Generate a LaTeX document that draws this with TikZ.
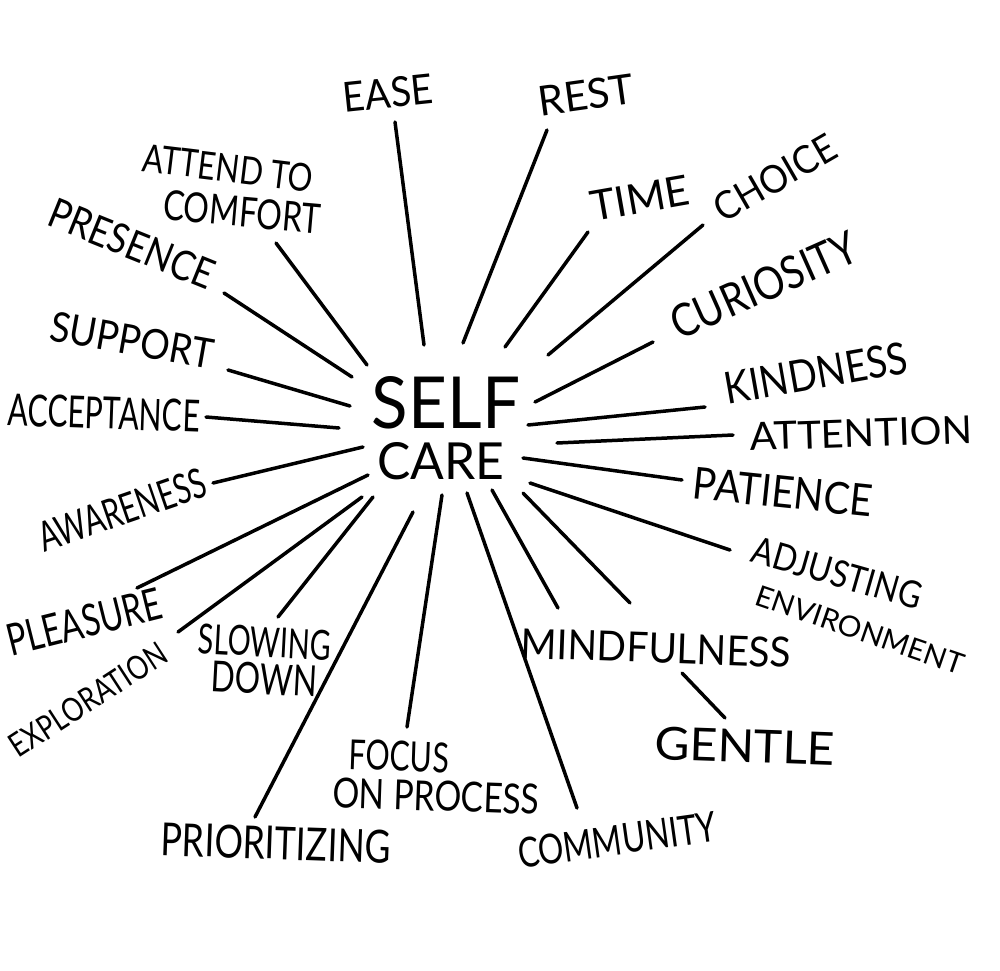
\documentclass[tikz,border=0pt]{standalone}
\usepackage{fontspec}
\setmainfont{Lato}
\usepackage{graphicx}
\newlength\pxu \setlength\pxu{0.02cm}
\newcommand\lab[3]{\resizebox{#1\pxu}{#2\pxu}{#3}}
\tikzset{word/.style={inner sep=0pt, anchor=center},
  spoke/.style={line width=0.07cm, line cap=round}}
\begin{document}
\begin{tikzpicture}[x=0.02cm,y=-0.02cm]
\useasboundingbox[fill=white] (0,0) rectangle (1000,970);
% centre
\node[word] (self) at (446,403) {\lab{148}{52}{SELF}};
\node[word] (care) at (441,461) {\lab{127}{37}{CARE}};
% labels
\node[word,rotate=6]  (ease) at (388,93) {\lab{90}{30}{EASE}};
\node[word,rotate=8]  (rest) at (586,95) {\lab{96}{30}{REST}};
\node[word,rotate=10] (time) at (640,198) {\lab{100}{30}{TIME}};
\node[word,rotate=30] (choice) at (775,178) {\lab{135}{28}{CHOICE}};
\node[word,rotate=24] (curiosity) at (764,285) {\lab{200}{33}{CURIOSITY}};
\node[word,rotate=10] (kindness) at (816,373) {\lab{185}{32}{KINDNESS}};
\node[word,rotate=2]  (attention) at (861,433) {\lab{222}{28}{ATTENTION}};
\node[word,rotate=-6] (patience) at (783,492) {\lab{180}{32}{PATIENCE}};
\node[word,rotate=-16] (adjusting) at (837,573) {\lab{175}{27}{ADJUSTING}};
\node[word,rotate=-19] (environment) at (860,630) {\lab{218}{21}{ENVIRONMENT}};
\node[word,rotate=-2] (mindfulness) at (656,648) {\lab{270}{30}{MINDFULNESS}};
\node[word,rotate=-2] (gentle) at (745,746) {\lab{180}{33}{GENTLE}};
\node[word,rotate=8]  (community) at (617,840) {\lab{200}{30}{COMMUNITY}};
\node[word,rotate=-2] (focus) at (399,756) {\lab{100}{30}{FOCUS}};
\node[word,rotate=-2] (process) at (436,796) {\lab{207}{30}{ON PROCESS}};
\node[word,rotate=-2] (prioritizing) at (276,843) {\lab{230}{33}{PRIORITIZING}};
\node[word,rotate=-3] (slowing) at (265,642) {\lab{133}{30}{SLOWING}};
\node[word,rotate=-3] (down) at (264,679) {\lab{106}{31}{DOWN}};
\node[word,rotate=33] (exploration) at (88,700) {\lab{180}{24}{EXPLORATION}};
\node[word,rotate=14] (pleasure) at (84,622) {\lab{158}{32}{PLEASURE}};
\node[word,rotate=19] (awareness) at (122,510) {\lab{175}{30}{AWARENESS}};
\node[word,rotate=-2] (acceptance) at (104,413) {\lab{192}{32}{ACCEPTANCE}};
\node[word,rotate=-10] (support) at (132,340) {\lab{165}{30}{SUPPORT}};
\node[word,rotate=-22] (presence) at (132,244) {\lab{175}{30}{PRESENCE}};
\node[word,rotate=-7] (attend) at (228,168) {\lab{171}{28}{ATTEND TO}};
\node[word,rotate=-5] (comfort) at (242,212) {\lab{158}{30}{COMFORT}};
% connector ends
\coordinate (ease-o) at (395,122);      \coordinate (ease-i) at (424,345);
\coordinate (rest-o) at (547,130);      \coordinate (rest-i) at (463,343);
\coordinate (time-o) at (588,232);      \coordinate (time-i) at (505,347);
\coordinate (choice-o) at (703,225);    \coordinate (choice-i) at (548,355);
\coordinate (curio-o) at (653,342);     \coordinate (curio-i) at (535,402);
\coordinate (kind-o) at (705,407);      \coordinate (kind-i) at (528,425);
\coordinate (atten-o) at (733,435);     \coordinate (atten-i) at (557,443);
\coordinate (pat-o) at (682,480);       \coordinate (pat-i) at (523,458);
\coordinate (adj-o) at (730,550);       \coordinate (adj-i) at (530,483);
\coordinate (mindA-o) at (558,608);     \coordinate (mindA-i) at (492,490);
\coordinate (mindB-o) at (630,603);     \coordinate (mindB-i) at (523,493);
\coordinate (gent-o) at (725,718);      \coordinate (gent-i) at (682,673);
\coordinate (comm-o) at (577,808);      \coordinate (comm-i) at (467,493);
\coordinate (focus-o) at (407,727);     \coordinate (focus-i) at (442,495);
\coordinate (prio-o) at (255,817);      \coordinate (prio-i) at (413,512);
\coordinate (slow-o) at (278,617);      \coordinate (slow-i) at (373,497);
\coordinate (expl-o) at (178,632);      \coordinate (expl-i) at (362,497);
\coordinate (pleas-o) at (137,588);     \coordinate (pleas-i) at (368,475);
\coordinate (aware-o) at (213,483);     \coordinate (aware-i) at (363,447);
\coordinate (accept-o) at (206,417);    \coordinate (accept-i) at (339,428);
\coordinate (supp-o) at (228,370);      \coordinate (supp-i) at (350,406);
\coordinate (pres-o) at (224,293);      \coordinate (pres-i) at (352,377);
\coordinate (comf-o) at (276,243);      \coordinate (comf-i) at (367,365);
% connectors
\foreach \k in {ease,rest,time,choice,curio,kind,atten,pat,adj,mindA,mindB,gent,comm,focus,prio,slow,expl,pleas,aware,accept,supp,pres,comf}
  \draw[spoke] (\k-o) -- (\k-i);
\end{tikzpicture}
\end{document}
